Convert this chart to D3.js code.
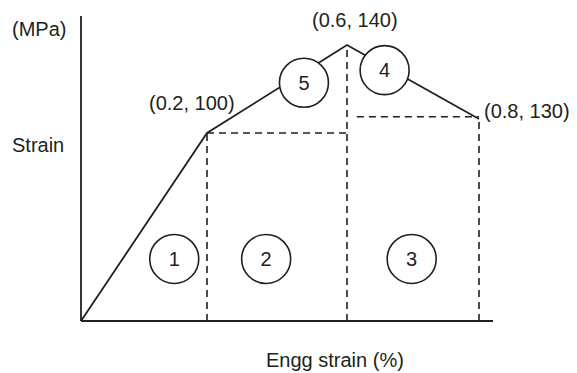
<!DOCTYPE html>
<html>
<head>
<meta charset="utf-8">
<script src="https://cdn.jsdelivr.net/npm/d3@7"></script>
<style>
  body { margin: 0; background: #fff; }
  text { font-family: "Liberation Sans", Arial, sans-serif; fill: #231f20; }
</style>
</head>
<body>
<div id="chart"></div>
<script>
// schematic stress-strain curve
const strain = [0, 0.2, 0.6, 0.8];
const stress = [0, 100, 140, 130];
const pointLabels = ["", "(0.2, 100)", "(0.6, 140)", "(0.8, 130)"];

// numbered region markers (position in strain / stress units)
const regionIds = ["1", "2", "3", "4", "5"];
const regionStrain = [0.148, 0.369, 0.698, 0.657, 0.477];
const regionStress = [33, 33, 33, 136.6, 134.9];

const W = 577, H = 373;
const ink = "#231f20";
const fontSize = "20px";

const svg = d3.select("#chart").append("svg")
    .attr("width", W)
    .attr("height", H);

// the drawing is not to scale, so use piecewise scales through the labelled points
const x = d3.scaleLinear()
    .domain([0, 0.2, 0.6, 0.8, 0.821])
    .range([81, 207, 347, 479, 493]);

const y = d3.scaleLinear()
    .domain([0, 100, 130, 140, 144])
    .range([321, 133, 119, 45, 16]);

// axes (plain lines, no ticks)
svg.append("line")
    .attr("x1", x(0)).attr("x2", x(0))
    .attr("y1", y(0)).attr("y2", y(144))
    .attr("stroke", ink).attr("stroke-width", 1.8);
svg.append("line")
    .attr("x1", x(0)).attr("x2", x(0.821))
    .attr("y1", y(0)).attr("y2", y(0))
    .attr("stroke", ink).attr("stroke-width", 1.8);

// dashed guides
const dash = "7,5";
const guides = [
    [[0.2, 0], [0.2, 100]],
    [[0.2, 100], [0.6, 100]],
    [[0.6, 0], [0.6, 140]],
    [[0.615, 130.3], [0.8, 130.3]],
    [[0.8, 0], [0.8, 130]]
];
svg.selectAll(".guide")
    .data(guides)
    .enter().append("line")
    .attr("class", "guide")
    .attr("x1", d => x(d[0][0])).attr("y1", d => y(d[0][1]))
    .attr("x2", d => x(d[1][0])).attr("y2", d => y(d[1][1]))
    .attr("stroke", ink)
    .attr("stroke-width", 1.6)
    .attr("stroke-dasharray", dash);

// curve
const pts = strain.map((s, i) => [s, stress[i]]);
svg.append("path")
    .datum(pts)
    .attr("d", d3.line().x(d => x(d[0])).y(d => y(d[1])))
    .attr("fill", "none")
    .attr("stroke", ink)
    .attr("stroke-width", 1.8);

// region circles
const regions = regionIds.map((id, i) => ({id: id, s: regionStrain[i], v: regionStress[i]}));
const rg = svg.selectAll(".region")
    .data(regions)
    .enter().append("g")
    .attr("class", "region")
    .attr("transform", d => "translate(" + x(d.s) + "," + y(d.v) + ")");
rg.append("circle")
    .attr("r", 24.5)
    .attr("fill", "#fff")
    .attr("stroke", ink)
    .attr("stroke-width", 1.6);
rg.append("text")
    .attr("text-anchor", "middle")
    .attr("dy", 7)
    .style("font-size", fontSize)
    .text(d => d.id);

// point labels
const labelPos = [null, [149, 110], [312, 27], [484, 118]];
svg.selectAll(".pt-label")
    .data(pointLabels.slice(1))
    .enter().append("text")
    .attr("class", "pt-label")
    .attr("x", (d, i) => labelPos[i + 1][0])
    .attr("y", (d, i) => labelPos[i + 1][1])
    .style("font-size", fontSize)
    .text(d => d);

// axis titles
svg.append("text").attr("x", 12).attr("y", 36).style("font-size", fontSize).text("(MPa)");
svg.append("text").attr("x", 12).attr("y", 152).style("font-size", fontSize).text("Strain");
svg.append("text").attr("x", 266).attr("y", 367).style("font-size", fontSize).text("Engg strain (%)");
</script>
</body>
</html>
